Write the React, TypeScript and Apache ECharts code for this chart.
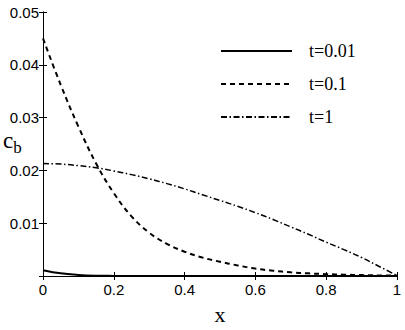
import React, { useEffect, useRef } from "react";
import * as echarts from "echarts";

const xs = [0, 0.05, 0.1, 0.15, 0.2, 0.25, 0.3, 0.35, 0.4, 0.45, 0.5, 0.55, 0.6, 0.65, 0.7, 0.75, 0.8, 0.85, 0.9, 0.95, 1];
const t001 = [0.0011, 0.0005, 0.0002, 0.00006, 0.00002, 0, 0, 0, 0, 0, 0, 0, 0, 0, 0, 0, 0, 0, 0, 0, 0];
const t01 = [0.045, 0.0362, 0.0283, 0.0213, 0.0157, 0.0113, 0.0082, 0.0061, 0.0046, 0.0035, 0.0027, 0.002, 0.0014, 0.001, 0.0007, 0.0005, 0.00035, 0.00025, 0.00017, 0.0001, 0.00008];
const t1 = [0.0213, 0.0212, 0.0209, 0.0205, 0.0199, 0.0192, 0.0184, 0.0175, 0.0165, 0.0154, 0.0143, 0.0132, 0.012, 0.0107, 0.0093, 0.0079, 0.0064, 0.005, 0.0035, 0.0018, 0.0001];
const seriesNames = ["t=0.01", "t=0.1", "t=1"];
const xTickLabels = ["0", "0.2", "0.4", "0.6", "0.8", "1"];

const pair = (vals: number[]) => xs.map((x, i) => [x, vals[i]]);

export default function App() {
  const ref = useRef<HTMLDivElement>(null);
  useEffect(() => {
    if (!ref.current) return;
    const chart = echarts.init(ref.current, null, { renderer: "svg" });
    const sans = "Liberation Sans";
    const serif = "Liberation Serif";
    const axisCommon = {
      axisLine: { show: true, lineStyle: { color: "#000", width: 1 } },
      axisTick: { show: true, inside: true, length: 4, lineStyle: { color: "#000" } },
      splitLine: { show: false },
    };
    chart.setOption({
      animation: false,
      backgroundColor: "#fff",
      grid: { left: 43, right: 8, top: 12, bottom: 46 },
      legend: {
        orient: "vertical",
        left: 215,
        top: 37,
        itemWidth: 71,
        itemHeight: 14,
        itemGap: 15,
        itemStyle: { opacity: 0 },
        textStyle: { fontFamily: serif, fontSize: 18, color: "#000", padding: [0, 0, 0, 12] },
        data: seriesNames,
      },
      xAxis: [
        {
          type: "value",
          min: 0,
          max: 1,
          interval: 0.2,
          position: "bottom",
          ...axisCommon,
          axisLabel: {
            color: "#000",
            fontFamily: sans,
            fontSize: 15,
            margin: 6,
            formatter: (v: number) => xTickLabels[Math.round(v / 0.2)] ?? "",
          },
          name: "x",
          nameLocation: "middle",
          nameGap: 27,
          nameTextStyle: { fontFamily: serif, fontSize: 22, color: "#000" },
        },
        {
          type: "value",
          min: 0,
          max: 1,
          interval: 0.2,
          position: "top",
          ...axisCommon,
          axisLabel: { show: false },
        },
      ],
      yAxis: [
        {
          type: "value",
          min: 0,
          max: 0.05,
          interval: 0.01,
          position: "left",
          ...axisCommon,
          axisLabel: {
            color: "#000",
            fontFamily: sans,
            fontSize: 15,
            margin: 4,
            formatter: (v: number) => (v === 0 ? "" : v.toFixed(2)),
          },
        },
        {
          type: "value",
          min: 0,
          max: 0.05,
          interval: 0.01,
          position: "right",
          ...axisCommon,
          axisLabel: { show: false },
        },
      ],
      graphic: [
        {
          type: "text",
          left: 3,
          top: 129,
          style: {
            text: "{c|c}{b|b}",
            rich: {
              c: { fontFamily: serif, fontSize: 23, color: "#000" },
              b: { fontFamily: serif, fontSize: 17, color: "#000", padding: [14, 0, 0, 0] },
            },
          },
        },
      ],
      series: [
        {
          name: seriesNames[0],
          type: "line",
          data: pair(t001),
          showSymbol: false,
          symbol: "none",
          smooth: 0.4,
          lineStyle: { color: "#000", width: 2, type: "solid" },
          itemStyle: { color: "#000" },
        },
        {
          name: seriesNames[1],
          type: "line",
          data: pair(t01),
          showSymbol: false,
          symbol: "none",
          smooth: 0.4,
          lineStyle: { color: "#000", width: 2, type: [5, 4] },
          itemStyle: { color: "#000" },
        },
        {
          name: seriesNames[2],
          type: "line",
          data: pair(t1),
          showSymbol: false,
          symbol: "none",
          smooth: 0.4,
          lineStyle: { color: "#000", width: 1.5, type: [6, 2.5, 1.5, 2.5] },
          itemStyle: { color: "#000" },
        },
      ],
    });
    return () => chart.dispose();
  }, []);
  return <div ref={ref} style={{ width: 405, height: 330, position: "absolute", left: 0, top: 0 }} />;
}
